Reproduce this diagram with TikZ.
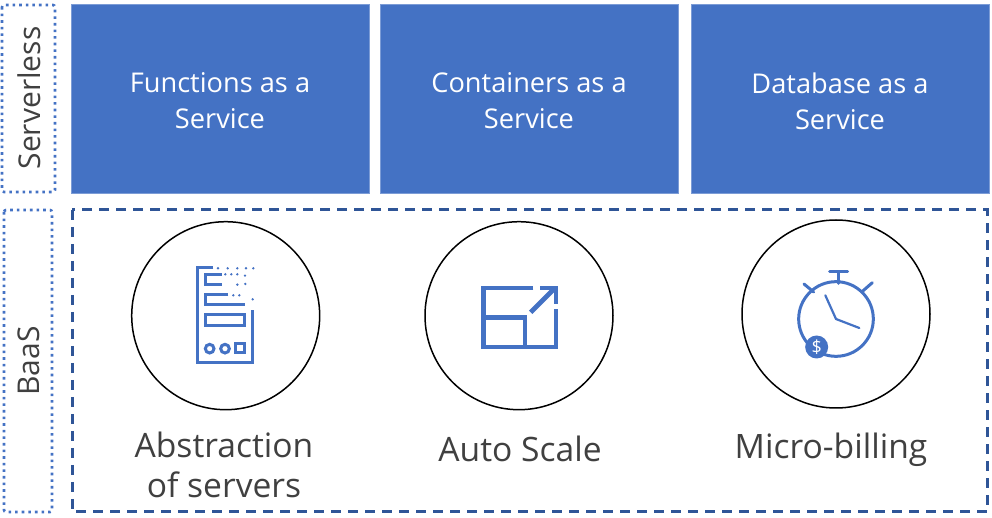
\documentclass[tikz,border=0pt]{standalone}
\usepackage{fontspec}
\setmainfont{Open Sans}
\usetikzlibrary{positioning}
\definecolor{svcblue}{HTML}{4472C4}
\definecolor{darkblue}{HTML}{2F5597}
\definecolor{labelgray}{HTML}{404040}
\tikzset{
  svcbox/.style={fill=svcblue,draw=svcblue!70!white,line width=0.4pt},
  svctext/.style={text=white,align=center,font=\fontsize{13.6}{18}\selectfont},
  sidebox/.style={draw=svcblue,line width=1.3pt,dotted,rounded corners=1pt},
  sidetext/.style={text=labelgray,rotate=90,font=\fontsize{15}{17}\selectfont},
  bigtext/.style={text=labelgray,align=center,font=\fontsize{16.8}{20}\selectfont},
  ring/.style={circle,draw=black,line width=0.75pt,minimum size=94pt,inner sep=0},
  icon/.style={draw=svcblue,line width=1.5pt},
  wideicon/.style={draw=svcblue,line width=2.4pt},
  thinicon/.style={draw=svcblue,line width=1.5pt,line cap=round}
}
\begin{document}
\begin{tikzpicture}[x=0.5pt,y=-0.5pt]
  \useasboundingbox (0,0) rectangle (992,518);
  % top row
  \foreach \name/\xa/\xb/\lab in {faas/71/369/Functions as a\\Service,caas/380/678/Containers as a\\Service,dbaas/691/989/Database as a\\Service}
    {
      \draw[svcbox] (\xa,4) rectangle (\xb,193);
      \node[svctext] (\name) at ({(\xa+\xb)/2},101) {\lab};
    }
  % side labels
  \draw[sidebox] (2,5) rectangle (55,192);
  \node[sidetext] (serverless) at (29,98) {Serverless};
  \draw[sidebox] (4,210) rectangle (52,512);
  \node[sidetext] (baas) at (29,361) {BaaS};
  \draw[darkblue,line width=1.5pt,dash pattern=on 5pt off 3.5pt] (72,210) rectangle (987,512);
  % circles
  \node[ring] (servers) at (225.7,315.7) {};
  \node[ring] (scale) at (519,315.7) {};
  \node[ring] (billing) at (836,314) {};
  % captions
  \node[bigtext] (abstraction) at (224,465) {Abstraction\\of servers};
  \node[bigtext] (autoscale) at (520,449) {Auto Scale};
  \node[bigtext] (microbilling) at (831,450) {Micro-billing};
  % server icon
  \begin{scope}[shift={(120,220)},scale=1/3]
    \draw[icon] (280,142) -- (232,142) -- (232,428) -- (398,428) -- (398,270);
    \draw[icon] (305,164) -- (257,164) -- (257,194) -- (305,194);
    \draw[icon] (325,224) -- (257,224) -- (257,254) -- (375,254);
    \draw[icon] (257,285) rectangle (373,316);
    \draw[icon] (269,386) circle (13);
    \draw[icon] (315,386) circle (13);
    \draw[icon] (348,372) rectangle (375,399);
    \foreach \px/\py in {294/145,323/145,352/145,378/145,400/145,316/163,334/163,352/163,375/167,352/194,376/192,340/226,358/226,398/238}
      \fill[svcblue] (\px,\py) circle (4);
  \end{scope}
  % scale icon
  \begin{scope}[shift={(420,220)},scale=1/3]
    \draw[wideicon] (340,204) -- (190,204) -- (190,381) -- (408,381) -- (408,268);
    \draw[wideicon] (190,293) -- (315,293) -- (315,381);
    \draw[wideicon] (332,277) -- (404,205);
    \draw[wideicon] (360,204) -- (408,204) -- (408,252);
  \end{scope}
  % billing icon
  \begin{scope}[shift={(735,220)},scale=1/3]
    \draw[thinicon] (303,297) circle (112);
    \draw[thinicon] (284,155) -- (338,155);
    \draw[thinicon] (311,155) -- (311,190);
    \draw[thinicon] (207,192) -- (236,216);
    \draw[thinicon] (412,188) -- (380,216);
    \draw[thinicon,line width=1.1pt] (271,226) -- (303,297) -- (373,324);
    \node[circle,fill=svcblue,text=white,minimum size=11.5pt,inner sep=0,font=\fontsize{9}{9}\selectfont] (dollar) at (245,381) {\$};
  \end{scope}
\end{tikzpicture}
\end{document}
